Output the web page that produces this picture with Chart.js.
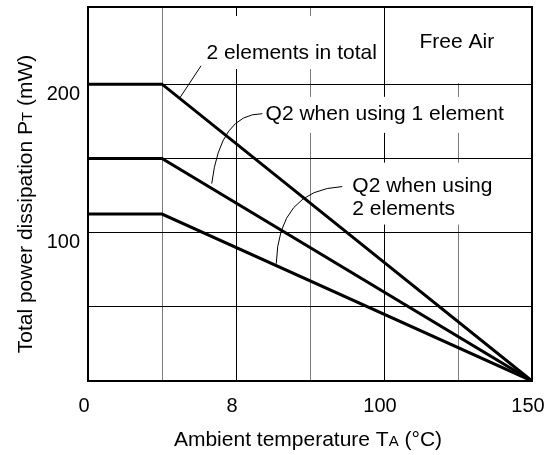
<!DOCTYPE html>
<html><head><meta charset="utf-8">
<script src="https://cdn.jsdelivr.net/npm/chart.js@4/dist/chart.umd.min.js"></script>
<style>html,body{margin:0;padding:0;background:#fff}</style>
</head><body>
<canvas id="c" width="550" height="455"></canvas>
<script>
// ---- data ----
const xGridValues = [0, 25, 50, 75, 100, 125, 150];
const xTickValues = [0, 50, 100, 150];
const xTickLabels = ['0', '8', '100', '150'];
const yGridValues = [0, 50, 100, 150, 200];
const yTickValues = [100, 200];
const yTickLabels = ['100', '200'];

const tempX = [0, 25, 150];
const totalPower = [200, 200, 0];      // 2 elements in total
const q2OnePower = [150, 150, 0];      // Q2 when using 1 element
const q2TwoPower = [112.5, 112.5, 0];  // Q2 when using 2 elements

const yTitleParts = ['Total power dissipation P', 'T', ' (mW)'];
const xTitleParts = ['Ambient temperature T', 'A', ' (°C)'];
const freeAirText = 'Free Air';
const totalText = ['2 elements in total'];
const q2OneText = ['Q2 when using 1 element'];
const q2TwoText = ['Q2 when using', '2 elements'];

// annotation anchors in data units (text left / centre, leader start, control, end)
const annTotal = { tx: 40, ty: 221, lead: [[38.2, 212.4], null, [31.1, 191]] };
const annQ2One = { tx: 60, ty: 180, lead: [[58.9, 180.1], [44.7, 180.1], [41.8, 133]] };
const annQ2Two = { tx: 89.3, ty: 131, lead: [[85.9, 131], [64.3, 128.8], [63.6, 79]] };
const annFree = { tx: 112, ty: 228.6 };

const FONT = '"Liberation Sans", Arial, Helvetica, sans-serif';

function toPts(xs, ys) { return xs.map((x, i) => ({ x: x, y: ys[i] })); }

const ds = (data) => ({
  data: data, borderColor: '#000', borderWidth: 3, pointRadius: 0,
  fill: false, tension: 0, borderJoinStyle: 'miter', borderCapStyle: 'butt'
});

const overlay = {
  id: 'overlay',
  afterDatasetsDraw(chart) {
    const ctx = chart.ctx, xs = chart.scales.x, ys = chart.scales.y, a = chart.chartArea;
    const px = v => xs.getPixelForValue(v), py = v => ys.getPixelForValue(v);
    ctx.save();
    // white boxes behind labels
    ctx.fillStyle = '#fff';
    function box(x0, y0, x1, y1) { ctx.fillRect(x0, y0, x1 - x0, y1 - y0); }
    ctx.font = '21px ' + FONT;
    box(px(annFree.tx) - 8, a.top + 1, a.right - 1, py(200) - 1);
    const w1 = ctx.measureText(totalText[0]).width;
    box(px(annTotal.tx) - 5, py(annTotal.ty) - 37, px(annTotal.tx) + w1 + 5, py(annTotal.ty) + 16);
    const w2 = ctx.measureText(q2OneText[0]).width;
    box(px(annQ2One.tx) - 6, py(annQ2One.ty) - 17, px(annQ2One.tx) + w2 + 6, py(annQ2One.ty) + 19);
    const w3 = Math.max(ctx.measureText(q2TwoText[0]).width, ctx.measureText(q2TwoText[1]).width);
    box(px(annQ2Two.tx) - 6, py(annQ2Two.ty) - 24, px(annQ2Two.tx) + w3 + 6, py(annQ2Two.ty) + 38);

    // texts
    ctx.fillStyle = '#000';
    ctx.textBaseline = 'middle';
    ctx.textAlign = 'left';
    ctx.fillText(freeAirText, px(annFree.tx), py(annFree.ty));
    ctx.fillText(totalText[0], px(annTotal.tx), py(annTotal.ty));
    ctx.fillText(q2OneText[0], px(annQ2One.tx), py(annQ2One.ty));
    ctx.fillText(q2TwoText[0], px(annQ2Two.tx), py(annQ2Two.ty));
    ctx.fillText(q2TwoText[1], px(annQ2Two.tx), py(annQ2Two.ty) + 23);

    // leaders
    ctx.strokeStyle = '#000';
    ctx.lineWidth = 1;
    [annTotal, annQ2One, annQ2Two].forEach(an => {
      const [s, c, e] = an.lead;
      ctx.beginPath();
      ctx.moveTo(px(s[0]), py(s[1]));
      if (c) ctx.quadraticCurveTo(px(c[0]), py(c[1]), px(e[0]), py(e[1]));
      else ctx.lineTo(px(e[0]), py(e[1]));
      ctx.stroke();
    });

    // frame
    ctx.lineWidth = 2;
    ctx.strokeRect(a.left, a.top, a.right - a.left, a.bottom - a.top);

    // axis titles with small letter
    function rich(parts, sizes, cx, cy, rot) {
      ctx.save();
      ctx.translate(cx, cy);
      ctx.rotate(rot);
      ctx.textBaseline = 'alphabetic';
      let w = 0;
      const ws = parts.map((t, i) => { ctx.font = sizes[i] + 'px ' + FONT; const m = ctx.measureText(t).width; w += m; return m; });
      let x = -w / 2;
      parts.forEach((t, i) => { ctx.font = sizes[i] + 'px ' + FONT; ctx.fillText(t, x, 7.5); x += ws[i]; });
      ctx.restore();
    }
    ctx.fillStyle = '#000';
    rich(xTitleParts, [21, 15, 21], 308, 438, 0);
    rich(yTitleParts, [21, 15, 21], 24, 204, -Math.PI / 2);
    ctx.restore();
  }
};

new Chart(document.getElementById('c'), {
  type: 'line',
  data: {
    datasets: [ds(toPts(tempX, totalPower)), ds(toPts(tempX, q2OnePower)), ds(toPts(tempX, q2TwoPower))]
  },
  options: {
    responsive: false, animation: false, devicePixelRatio: 1,
    layout: { padding: { top: 7, right: 18, left: 0, bottom: 0 } },
    plugins: { legend: { display: false }, tooltip: { enabled: false } },
    scales: {
      x: {
        type: 'linear', min: 0, max: 150,
        afterBuildTicks: s => { s.ticks = xGridValues.map(v => ({ value: v })); },
        afterFit: s => { s.height = 74; s.paddingLeft = 0; s.paddingRight = 0; },
        ticks: {
          autoSkip: false, maxRotation: 0, color: '#000', padding: 13, labelOffset: -4,
          font: { family: FONT, size: 20 },
          callback: v => { const i = xTickValues.indexOf(v); return i >= 0 ? xTickLabels[i] : ''; }
        },
        grid: {
          drawTicks: false, lineWidth: 1,
          color: c => (c.tick && c.tick.value % 50 === 25) ? '#7a7a7a' : '#000'
        },
        border: { display: true, color: '#000', width: 2 }
      },
      y: {
        type: 'linear', min: 0, max: 252,
        afterBuildTicks: s => { s.ticks = yGridValues.map(v => ({ value: v })); },
        afterFit: s => { s.width = 88; s.paddingTop = 0; s.paddingBottom = 0; },
        ticks: {
          autoSkip: false, color: '#000', padding: 8, labelOffset: 10,
          font: { family: FONT, size: 20 },
          callback: v => { const i = yTickValues.indexOf(v); return i >= 0 ? yTickLabels[i] : ''; }
        },
        grid: { drawTicks: false, lineWidth: 1, color: '#000' },
        border: { display: true, color: '#000', width: 2 }
      }
    }
  },
  plugins: [overlay]
});
</script>
</body></html>
